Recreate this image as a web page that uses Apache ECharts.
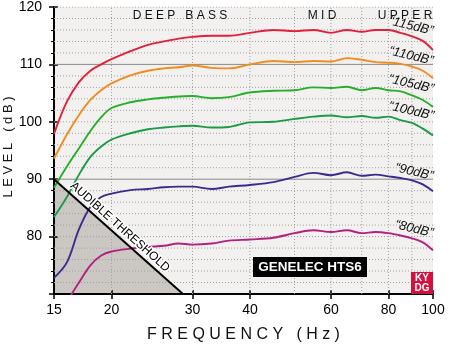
<!DOCTYPE html>
<html><head><meta charset="utf-8">
<script src="https://cdn.jsdelivr.net/npm/echarts@6/dist/echarts.min.js"></script>
<style>html,body{margin:0;padding:0;background:#fff}#c{width:450px;height:356px}</style>
</head><body><div id="c"></div>
<script>
// ---- data ----
const freqs = [15,16,17,18,19,20,22,24,26,28,30,33,36,40,45,50,55,60,65,70,75,80,85,90,95,100];
const s115 = [97.9,103.5,106.9,108.9,110.0,110.9,112.3,113.4,114.0,114.5,114.8,115.0,115.0,115.5,116.0,115.8,116.0,115.5,116.0,115.7,116.0,116.0,115.5,114.9,114.1,112.5];
const s110 = [93.6,97.8,101.2,103.8,105.5,106.7,108.1,108.9,109.3,109.5,109.8,109.4,109.3,110.0,110.6,110.4,110.6,110.5,111.1,110.8,110.4,110.3,110.1,109.6,108.9,107.6];
const s105 = [88.5,92.2,95.4,98.4,100.8,102.4,103.4,103.9,104.2,104.4,104.5,104.1,104.3,105.1,105.4,105.5,106.0,105.9,106.1,105.5,105.9,105.5,105.3,104.6,103.8,102.6];
const s100 = [83.4,86.9,90.8,93.9,95.7,96.9,98.0,98.7,99.0,99.2,99.3,99.0,99.1,99.9,100.0,100.5,100.9,101.1,100.8,101.0,100.7,100.9,100.3,99.8,98.8,97.6];
const s90  = [72.8,75.5,81.3,85.2,86.9,87.5,88.1,88.3,88.6,88.7,88.7,88.3,88.7,89.0,89.5,90.4,91.1,90.7,91.2,90.6,90.8,90.5,90.2,89.8,89.1,87.9];
const s80  = [65.3,68.7,72.0,75.0,76.7,77.4,77.9,78.2,78.4,78.8,78.6,78.8,79.3,79.5,79.8,80.6,81.1,80.8,81.1,80.6,80.8,80.6,80.2,79.7,79.0,77.6];
const seriesNames = ['“115dB”','“110dB”','“105dB”','“100dB”','“90dB”','“80dB”'];
const thresholdFreq = [15, 28.6];
const thresholdLevel = [90, 70];
const xTickLabels = [15,20,30,40,60,80,100];
const xGridFreqs = [20,30,40,50,60,70,80,90];
const yDotted = [72,74,76,78,80,82,84,86,88,92,94,96,98,100,102,104,106,108,112,114,116,118,120];
const ySolid = [90,110];
const regionLabels = ['D E E P   B A S S','M I D','U P P E R'];

const L = Math.log10;
const colors = ['#e3203b','#f28c1e','#27ae2a','#1b9b45','#3d2a8f','#b3207f'];
const allSeries = [s115,s110,s105,s100,s90,s80];
const FONT = 'Liberation Sans, Arial, sans-serif';

const series = [];
series.push({type:'line', data: thresholdFreq.map((f,i)=>[L(f), thresholdLevel[i]]), symbol:'none', silent:true, z:0,
  lineStyle:{width:0}, areaStyle:{color:'#cbc7c3', opacity:1, origin:'start'}, animation:false});
xGridFreqs.forEach(f => series.push({type:'line', data:[[L(f),70],[L(f),120]], symbol:'none', silent:true, z:1, animation:false,
  lineStyle:{color:'#a0a0a0', width:1, type:[1,2]}}));
yDotted.forEach(v => series.push({type:'line', data:[[L(15),v],[L(100),v]], symbol:'none', silent:true, z:1, animation:false,
  lineStyle:{color:'#a0a0a0', width:1, type:[1,2]}}));
ySolid.forEach(v => series.push({type:'line', data:[[L(15),v],[L(100),v]], symbol:'none', silent:true, z:1, animation:false,
  lineStyle:{color:'#8a8a8a', width:1}}));
allSeries.forEach((arr,i) => series.push({type:'line', name: seriesNames[i], data: freqs.map((f,j)=>[L(f), arr[j]]),
  symbol:'none', smooth:0.35, z:3, animation:false, clip:true, lineStyle:{color:colors[i], width:1.9}}));
series.push({type:'line', data: thresholdFreq.map((f,i)=>[L(f), thresholdLevel[i]]), symbol:'none', silent:true, z:4,
  lineStyle:{width:2, color:'#000'}, animation:false});

const chart = echarts.init(document.getElementById('c'), null, {renderer:'canvas'});
const lblPos = [[411,26],[411,56],[411,84],[411,111],[414,172],[414,229]];
const graphics = [];
seriesNames.forEach((n,i)=>graphics.push({type:'text', x:lblPos[i][0], y:lblPos[i][1], rotation:-0.23, z:100,
  style:{text:n, fill:'#111', font:'italic 13px '+FONT, align:'center', verticalAlign:'middle'}}));
const regX = [180,322,405];
regionLabels.forEach((t,i)=>graphics.push({type:'text', x:regX[i], y:16, z:100,
  style:{text:t, fill:'#111', font:'12px '+FONT, align:'center', verticalAlign:'middle'}}));
graphics.push({type:'text', x:120, y:227, rotation:-0.728, z:100,
  style:{text:'AUDIBLE THRESHOLD', fill:'#000', font:'12px '+FONT, align:'center', verticalAlign:'middle', stroke:'#fff', lineWidth:3}});
graphics.push({type:'rect', shape:{x:253,y:257,width:114,height:20}, style:{fill:'#000'}, z:100});
graphics.push({type:'text', x:310, y:267, z:101, style:{text:'GENELEC HTS6', fill:'#fff', font:'bold 13.5px '+FONT, align:'center', verticalAlign:'middle'}});
graphics.push({type:'rect', shape:{x:411,y:272,width:22,height:22}, style:{fill:'#d4103f'}, z:100});
graphics.push({type:'text', x:422, y:278, z:101, style:{text:'KY', fill:'#fff', font:'bold 10px '+FONT, align:'center', verticalAlign:'middle'}});
graphics.push({type:'text', x:422, y:288, z:101, style:{text:'DG', fill:'#fff', font:'bold 10px '+FONT, align:'center', verticalAlign:'middle'}});
graphics.push({type:'text', x:8, y:147, rotation:Math.PI/2, z:100,
  style:{text:'L E V E L   ( d B )', fill:'#111', font:'13px '+FONT, align:'center', verticalAlign:'middle'}});

const xTickVals = xTickLabels.map(L);
chart.setOption({
  animation:false,
  backgroundColor:'#fff',
  grid:{left:54, right:17, top:6, bottom:62, show:true, backgroundColor:'#f2f1f0', borderWidth:0},
  xAxis:[{type:'value', min:L(15), max:L(100), position:'bottom',
    axisLine:{lineStyle:{color:'#000', width:2}},
    axisTick:{customValues: xTickVals, length:5, lineStyle:{color:'#000', width:1.5}},
    axisLabel:{customValues: xTickVals, formatter:v=>String(Math.round(Math.pow(10,v))), color:'#000', fontSize:14, fontFamily:FONT, margin:9},
    splitLine:{show:false},
    name:'F R E Q U E N C Y   ( H z )', nameLocation:'middle', nameGap:33,
    nameTextStyle:{color:'#111', fontSize:16, fontFamily:FONT}},
   {type:'value', min:L(15), max:L(100), position:'bottom', offset:0,
    axisLine:{show:false},
    axisTick:{customValues: xTickVals, inside:true, length:4, lineStyle:{color:'#000', width:1.5}},
    axisLabel:{show:false}, splitLine:{show:false}}],
  yAxis:[{type:'value', min:70, max:120, interval:10, position:'left',
    axisLine:{show:true, lineStyle:{color:'#000', width:2}},
    axisTick:{show:true, length:5, lineStyle:{color:'#000', width:1.5}},
    minorTick:{show:true, splitNumber:5, length:3, lineStyle:{color:'#000', width:1}},
    axisLabel:{formatter:v=> v===70 ? '' : String(v), color:'#000', fontSize:14, fontFamily:FONT, margin:12},
    splitLine:{show:false}, minorSplitLine:{show:false}},
   {type:'value', min:70, max:120, interval:10, position:'left', offset:0,
    axisLine:{show:false},
    axisTick:{show:true, inside:true, length:4, lineStyle:{color:'#000', width:1.5}},
    axisLabel:{show:false}, splitLine:{show:false}}],
  series: series,
  graphic: graphics
});
</script></body></html>
